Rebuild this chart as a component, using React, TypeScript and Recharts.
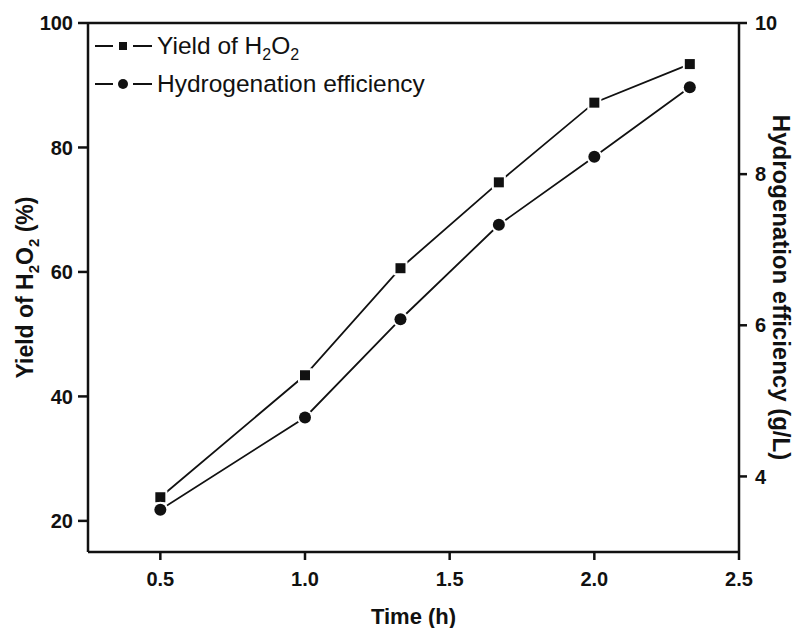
import { Legend, Line, LineChart, ReferenceLine, XAxis, YAxis } from "recharts";

// Time (h) and the two measured series
const times = [0.5, 1.0, 1.33, 1.67, 2.0, 2.33];
const yieldH2O2 = [23.8, 43.4, 60.6, 74.4, 87.2, 93.4];
const hydrogenation = [3.56, 4.78, 6.08, 7.33, 8.23, 9.15];

const xTicks = [0.5, 1.0, 1.5, 2.0, 2.5];
const leftTicks = [20, 40, 60, 80, 100];
const rightTicks = [4, 6, 8, 10];

const data = times.map((t, i) => ({ t, yield: yieldH2O2[i], eff: hydrogenation[i] }));

const FONT = '"Liberation Sans", Arial, Helvetica, sans-serif';
const INK = "#111";

const tickStyle = { fill: INK, fontSize: 20, fontWeight: 700, fontFamily: FONT };
const axisLine = { stroke: INK, strokeWidth: 2.5 };

const SquareDot = (p: any) => {
  const { cx, cy, index } = p;
  if (cx == null || cy == null) return null;
  return (
    <rect
      key={`sq-${index}`}
      x={cx - 5}
      y={cy - 5}
      width={10}
      height={10}
      fill={INK}
      stroke="#fff"
      strokeWidth={4}
      paintOrder="stroke"
    />
  );
};

const CircleDot = (p: any) => {
  const { cx, cy, index } = p;
  if (cx == null || cy == null) return null;
  return (
    <circle
      key={`ci-${index}`}
      cx={cx}
      cy={cy}
      r={6}
      fill={INK}
      stroke="#fff"
      strokeWidth={4}
      paintOrder="stroke"
    />
  );
};

const LegendKey = ({ shape }: { shape: "square" | "circle" }) => (
  <svg width={62} height={20} style={{ display: "block", flex: "none" }}>
    <line x1={0} y1={10} x2={18} y2={10} stroke={INK} strokeWidth={2} />
    <line x1={38} y1={10} x2={57} y2={10} stroke={INK} strokeWidth={2} />
    {shape === "square" ? (
      <rect x={24} y={6} width={8} height={8} fill={INK} />
    ) : (
      <circle cx={28} cy={10} r={5} fill={INK} />
    )}
  </svg>
);

const sub = { fontSize: 16, lineHeight: 0 };

const renderLegend = () => (
  <div style={{ fontFamily: FONT, fontSize: 24.5, color: INK }}>
    <div style={{ display: "flex", alignItems: "center", height: 38 }}>
      <LegendKey shape="square" />
      <span>
        Yield of H<sub style={sub}>2</sub>O<sub style={sub}>2</sub>
      </span>
    </div>
    <div style={{ display: "flex", alignItems: "center", height: 38 }}>
      <LegendKey shape="circle" />
      <span>Hydrogenation efficiency</span>
    </div>
  </div>
);

const LeftTitle = (props: any) => {
  const vb = props.viewBox ?? { x: 0, y: 23, width: 88, height: 529 };
  const cx = vb.x + 33;
  const cy = vb.y + vb.height / 2;
  return (
    <text
      x={cx}
      y={cy}
      transform={`rotate(-90 ${cx} ${cy})`}
      textAnchor="middle"
      fill={INK}
      fontFamily={FONT}
      fontSize={23}
      fontWeight={700}
    >
      Yield of H<tspan dy={6} fontSize={15}>2</tspan>
      <tspan dy={-6}>O</tspan>
      <tspan dy={6} fontSize={15}>2</tspan>
      <tspan dy={-6}> (%)</tspan>
    </text>
  );
};

const RightTitle = (props: any) => {
  const vb = props.viewBox ?? { x: 739, y: 23, width: 59, height: 529 };
  const cx = vb.x + 34;
  const cy = vb.y + vb.height / 2;
  return (
    <text
      x={cx}
      y={cy}
      transform={`rotate(90 ${cx} ${cy})`}
      textAnchor="middle"
      fill={INK}
      fontFamily={FONT}
      fontSize={24}
      fontWeight={700}
    >
      Hydrogenation efficiency (g/L)
    </text>
  );
};

const BottomTitle = (props: any) => {
  const vb = props.viewBox ?? { x: 88, y: 552, width: 651, height: 76 };
  return (
    <text
      x={vb.x + vb.width / 2}
      y={vb.y + 72}
      textAnchor="middle"
      fill={INK}
      fontFamily={FONT}
      fontSize={22}
      fontWeight={700}
    >
      Time (h)
    </text>
  );
};

export default function App() {
  return (
    <div style={{ position: "absolute", top: 0, left: 0, background: "#fff" }}>
      <LineChart width={798} height={628} data={data} margin={{ top: 23, right: 0, bottom: 0, left: 0 }}>
        <XAxis
          dataKey="t"
          type="number"
          domain={[0.25, 2.5]}
          ticks={xTicks}
          interval={0}
          allowDataOverflow
          tickFormatter={(v: number) => v.toFixed(1)}
          height={76}
          tick={tickStyle}
          axisLine={axisLine}
          tickLine={axisLine}
          tickSize={8}
          tickMargin={12}
          label={BottomTitle}
        />
        <YAxis
          yAxisId="left"
          domain={[15, 100]}
          ticks={leftTicks}
          interval={0}
          allowDataOverflow
          width={88}
          tick={tickStyle}
          axisLine={axisLine}
          tickLine={axisLine}
          tickSize={10}
          tickMargin={5}
          label={LeftTitle}
        />
        <YAxis
          yAxisId="right"
          orientation="right"
          domain={[3, 10]}
          ticks={rightTicks}
          interval={0}
          allowDataOverflow
          width={59}
          tick={tickStyle}
          axisLine={axisLine}
          tickLine={axisLine}
          tickSize={8}
          tickMargin={8}
          label={RightTitle}
        />
        <ReferenceLine yAxisId="left" y={100} stroke={INK} strokeWidth={2.5} />
        <Legend
          layout="horizontal"
          align="center"
          verticalAlign="middle"
          wrapperStyle={{ left: 95, top: 27, width: 420 }}
          content={renderLegend}
        />
        <Line
          yAxisId="left"
          type="linear"
          dataKey="yield"
          stroke={INK}
          strokeWidth={1.8}
          dot={SquareDot}
          activeDot={false}
          isAnimationActive={false}
        />
        <Line
          yAxisId="right"
          type="linear"
          dataKey="eff"
          stroke={INK}
          strokeWidth={1.8}
          dot={CircleDot}
          activeDot={false}
          isAnimationActive={false}
        />
      </LineChart>
    </div>
  );
}
